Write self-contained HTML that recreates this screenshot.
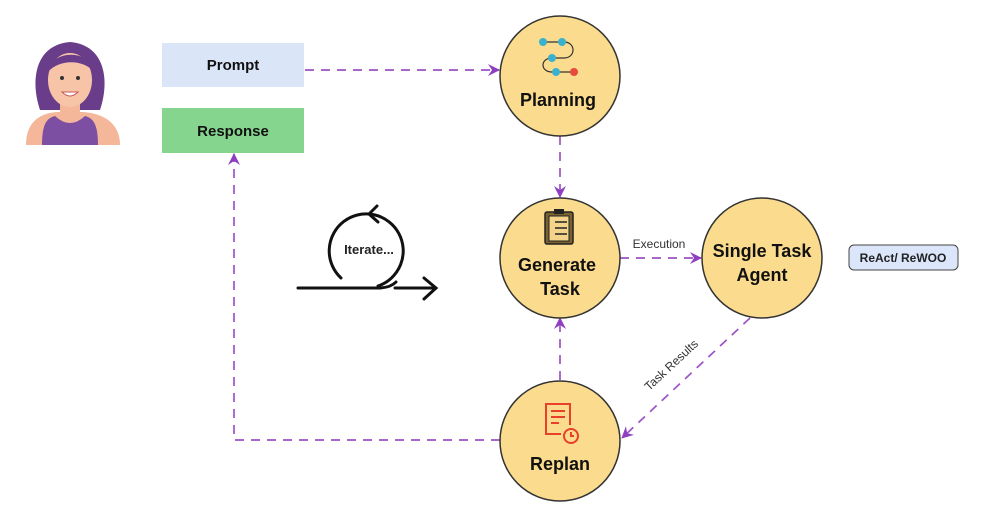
<!DOCTYPE html>
<html><head><style>
body{margin:0;background:#fff;}
svg text{font-family:"Liberation Sans",sans-serif;}
</style></head><body>
<svg width="988" height="512" viewBox="0 0 988 512" xmlns="http://www.w3.org/2000/svg">
<defs>
<marker id="a" markerWidth="14" markerHeight="14" refX="11" refY="6" orient="auto" markerUnits="userSpaceOnUse">
<path d="M0,0 L12,6 L0,12 L4,6 Z" fill="#8e3fc0"/></marker>
</defs>
<g stroke="#9d52c8" stroke-width="1.7" stroke-dasharray="9,7" fill="none">
<line x1="305" y1="70" x2="499" y2="70" marker-end="url(#a)"/>
<line x1="560" y1="136" x2="560" y2="197" marker-end="url(#a)"/>
<line x1="620" y1="258" x2="701" y2="258" marker-end="url(#a)"/>
<line x1="750" y1="318" x2="622" y2="438" marker-end="url(#a)"/>
<line x1="560" y1="380" x2="560" y2="318" marker-end="url(#a)"/>
<polyline points="500,440 234,440 234,154" marker-end="url(#a)"/>
</g>
<!-- woman -->
<g>
<path d="M40,110 C30,80 35,45 70,42 C105,45 110,80 100,110 Z" fill="#6a3d8a"/>
<rect x="60" y="100" width="20" height="20" fill="#f4b79a"/>
<ellipse cx="70" cy="80" rx="22" ry="27" fill="#f7c4a8"/>
<path d="M48,72 C50,50 90,48 94,72 C85,60 60,58 48,72Z" fill="#6a3d8a"/>
<circle cx="62" cy="78" r="2" fill="#333"/><circle cx="78" cy="78" r="2" fill="#333"/>
<path d="M62,92 Q70,100 78,92 Z" fill="#fff" stroke="#c55" stroke-width="1"/>
<path d="M26,145 C26,118 45,112 60,112 L80,112 C95,112 120,118 120,145 Z" fill="#f4b79a"/>
<path d="M42,145 C42,122 48,118 55,116 Q70,130 85,116 C92,118 98,122 98,145 Z" fill="#7d4fa3"/>
</g>
<rect x="162" y="43" width="142" height="44" fill="#dae5f8"/>
<text x="233" y="70" font-size="15" font-weight="bold" text-anchor="middle" fill="#111">Prompt</text>
<rect x="162" y="108" width="142" height="45" fill="#86d58f"/>
<text x="233" y="136" font-size="15" font-weight="bold" text-anchor="middle" fill="#111">Response</text>
<g fill="#fbdc8e" stroke="#333" stroke-width="1.5">
<circle cx="560" cy="76" r="60"/>
<circle cx="560" cy="258" r="60"/>
<circle cx="762" cy="258" r="60"/>
<circle cx="560" cy="441" r="60"/>
</g>
<g fill="none" stroke="#333" stroke-width="1.2">
<path d="M543,42 H564 C576,42 576,58 564,58 H552 C540,58 540,72 552,72 H572"/>
</g>
<g fill="#3ab2cf"><circle cx="543" cy="42" r="4"/><circle cx="562" cy="42" r="4"/><circle cx="552" cy="58" r="4"/><circle cx="556" cy="72" r="4"/></g>
<circle cx="574" cy="72" r="4" fill="#e84a3c"/>
<text x="558" y="106" font-size="18" font-weight="bold" text-anchor="middle" fill="#111">Planning</text>
<rect x="545" y="212" width="28" height="32" rx="2" fill="#7a6230" stroke="#222" stroke-width="1.5"/>
<rect x="549" y="216" width="20" height="25" fill="#f3d48a" stroke="#222"/>
<rect x="554" y="209" width="10" height="5" fill="#222"/>
<g stroke="#222" stroke-width="1.5"><line x1="555" y1="222" x2="567" y2="222"/><line x1="555" y1="228" x2="567" y2="228"/><line x1="555" y1="234" x2="567" y2="234"/></g>
<text x="557" y="271" font-size="18" font-weight="bold" text-anchor="middle" fill="#111">Generate</text>
<text x="560" y="295" font-size="18" font-weight="bold" text-anchor="middle" fill="#111">Task</text>
<text x="762" y="257" font-size="18" font-weight="bold" text-anchor="middle" fill="#111">Single Task</text>
<text x="762" y="281" font-size="18" font-weight="bold" text-anchor="middle" fill="#111">Agent</text>
<g fill="none" stroke="#e8402a" stroke-width="2">
<path d="M570,425 V404 H546 V434 H561"/>
<line x1="551" y1="411" x2="565" y2="411"/><line x1="551" y1="417" x2="565" y2="417"/><line x1="551" y1="423" x2="559" y2="423"/>
<circle cx="571" cy="436" r="7"/><path d="M571,432 V436 H574"/>
</g>
<text x="560" y="470" font-size="18" font-weight="bold" text-anchor="middle" fill="#111">Replan</text>
<text x="659" y="248" font-size="12" text-anchor="middle" fill="#333">Execution</text>
<text x="674" y="368" font-size="12" text-anchor="middle" fill="#333" transform="rotate(-43 674 368)">Task Results</text>
<rect x="849" y="245" width="109" height="25" rx="5" fill="#dbe6fb" stroke="#444" stroke-width="1"/>
<text x="903" y="262" font-size="12" font-weight="bold" text-anchor="middle" fill="#222">ReAct/ ReWOO</text>
<g fill="none" stroke="#111" stroke-width="3" stroke-linecap="round">
<path d="M341,278 A37,37 0 1 1 378,286"/>
<path d="M377,206 L369,214 L378,222"/>
<path d="M298,288 H378 C386,288 392,286 396,282"/>
<path d="M395,288 H435 M424,278 L436,288 L424,299"/>
</g>
<text x="369" y="254" font-size="13" font-weight="bold" text-anchor="middle" fill="#222">Iterate...</text>
</svg>
</body></html>
